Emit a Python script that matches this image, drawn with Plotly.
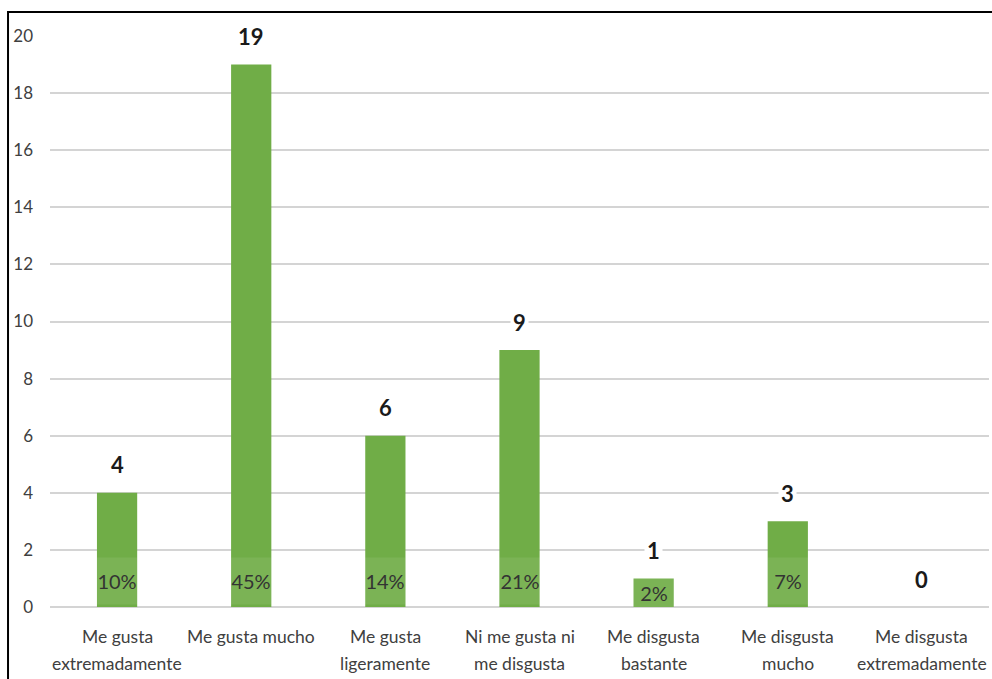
import plotly.graph_objects as go

# Survey results: how much respondents liked the product
categories = [
    "Me gusta extremadamente",
    "Me gusta mucho",
    "Me gusta ligeramente",
    "Ni me gusta ni me disgusta",
    "Me disgusta bastante",
    "Me disgusta mucho",
    "Me disgusta extremadamente",
]
# Two-line axis captions for each category
label_line1 = ["Me gusta", "Me gusta mucho", "Me gusta", "Ni me gusta ni",
               "Me disgusta", "Me disgusta", "Me disgusta"]
label_line2 = ["extremadamente", "", "ligeramente", "me disgusta",
               "bastante", "mucho", "extremadamente"]
counts = [4, 19, 6, 9, 1, 3, 0]
y_ticks = [0, 2, 4, 6, 8, 10, 12, 14, 16, 18, 20]

total = sum(counts)
percents = [f"{round(c / total * 100)}%" for c in counts]

FONT = "Lato"
BAR_GREEN = "#70AD47"

fig = go.Figure(
    go.Bar(
        x=categories,
        y=counts,
        marker=dict(color=BAR_GREEN, line=dict(width=0)),
        hoverinfo="x+y",
    )
)

annotations = []
for cat, c, pct, l1, l2 in zip(categories, counts, percents, label_line1, label_line2):
    # count above each bar
    annotations.append(dict(
        x=cat, y=c, xref="x", yref="y", text=f"<b>{c}</b>", showarrow=False,
        yanchor="middle", yshift=28, bgcolor="white", borderpad=2,
        font=dict(family=FONT, size=22, color="#1a1a1a"),
    ))
    # share of the total, at the base of the bar
    if c > 0:
        annotations.append(dict(
            x=cat, y=min(c / 2, 0.91), xref="x", yref="y", text=pct,
            showarrow=False, yanchor="middle", width=40, height=46,
            borderpad=0, bgcolor="rgba(255,255,255,0.08)",
            font=dict(family=FONT, size=20, color="#333333"),
        ))
    # category caption, two lines
    annotations.append(dict(
        x=cat, y=0, xref="x", yref="paper", text=l1, showarrow=False,
        yanchor="middle", yshift=-29,
        font=dict(family=FONT, size=17.5, color="#404040"),
    ))
    if l2:
        annotations.append(dict(
            x=cat, y=0, xref="x", yref="paper", text=l2, showarrow=False,
            yanchor="middle", yshift=-56,
            font=dict(family=FONT, size=17.5, color="#404040"),
        ))

fig.update_layout(
    width=992,
    height=679,
    margin=dict(l=50, r=3, t=36, b=72),
    paper_bgcolor="white",
    plot_bgcolor="white",
    showlegend=False,
    bargap=0.70,
    annotations=annotations,
    shapes=[
        # outer frame (left and top edges visible)
        dict(type="rect", xref="paper", yref="paper",
             x0=-0.0447, x1=1.2, y0=-0.5, y1=1.042,
             line=dict(color="black", width=2), fillcolor="rgba(0,0,0,0)",
             layer="above"),
    ],
    xaxis=dict(showticklabels=False, showgrid=False, showline=False, ticks=""),
    yaxis=dict(
        range=[0, 20],
        tickvals=y_ticks,
        ticktext=[str(t) for t in y_ticks],
        showgrid=True, gridcolor="#d4d4d4", gridwidth=1.5,
        zeroline=True, zerolinecolor="#d4d4d4", zerolinewidth=1.5,
        showline=False, ticks="", ticklabelstandoff=16,
        tickfont=dict(family=FONT, size=17, color="#404040"),
    ),
)

fig.write_html("out.html")
